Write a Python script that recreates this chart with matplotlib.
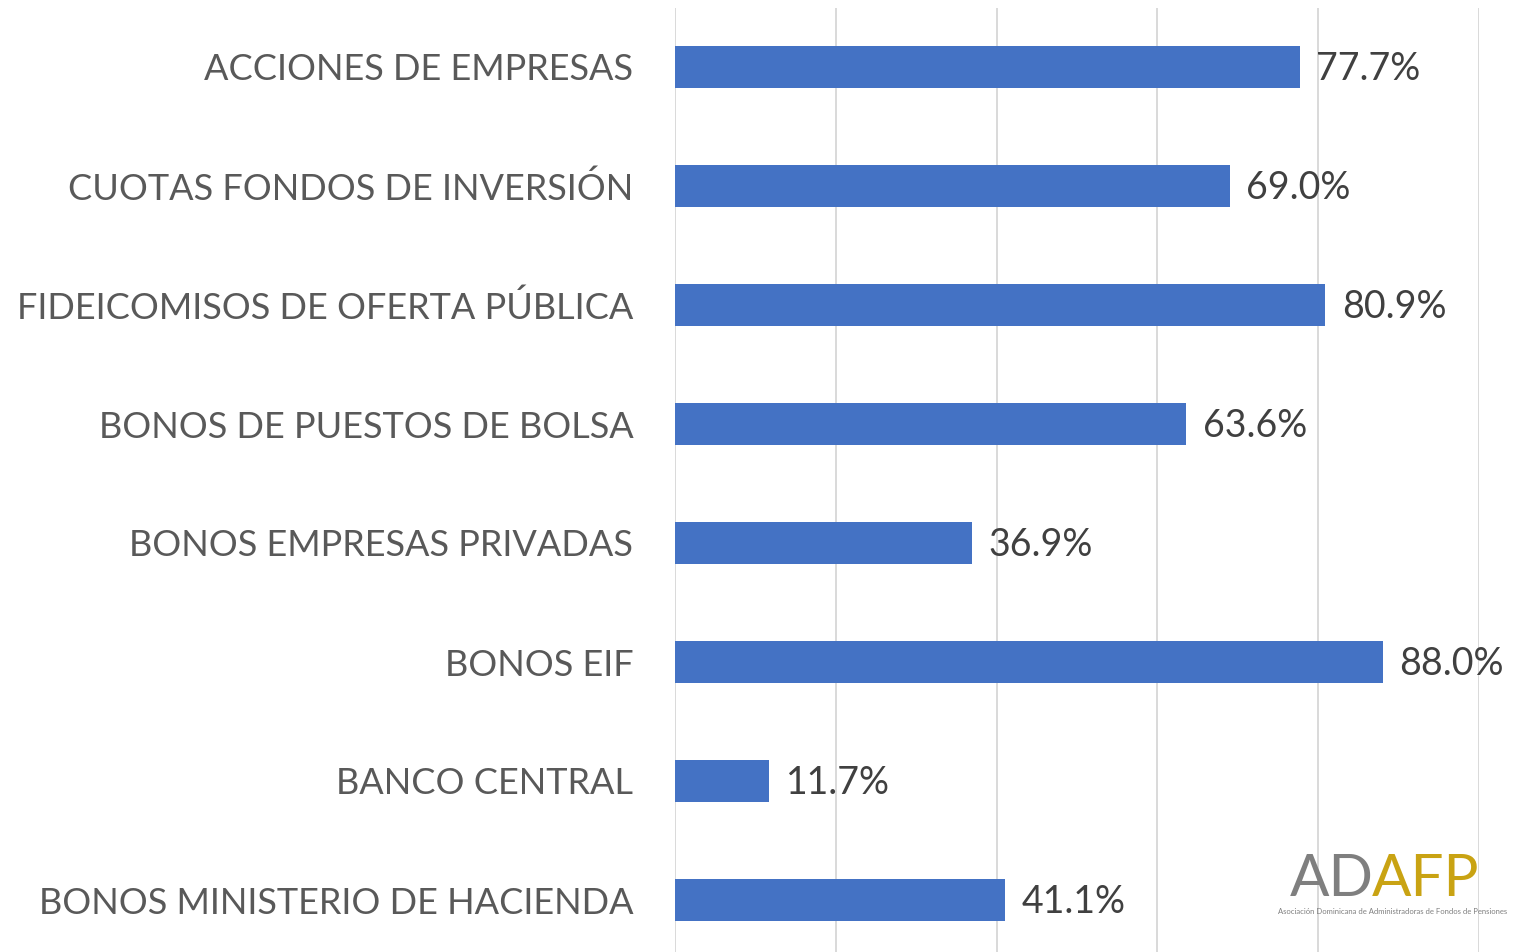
import matplotlib
matplotlib.use('Agg')
import matplotlib.pyplot as plt

categories = ['ACCIONES DE EMPRESAS', 'CUOTAS FONDOS DE INVERSIÓN',
              'FIDEICOMISOS DE OFERTA PÚBLICA', 'BONOS DE PUESTOS DE BOLSA',
              'BONOS EMPRESAS PRIVADAS', 'BONOS EIF', 'BANCO CENTRAL',
              'BONOS MINISTERIO DE HACIENDA']
values = [77.7, 69.0, 80.9, 63.6, 36.9, 88.0, 11.7, 41.1]
grid_ticks = [0, 20, 40, 60, 80, 100]

plt.rcParams['font.family'] = ['Lato', 'DejaVu Sans']

W, H = 1524, 952
fig = plt.figure(figsize=(W / 100, H / 100), dpi=100)
ax = fig.add_axes([675 / W, -7.5 / H, (1479 - 675) / W, 1.0])

pos = list(range(len(categories)))
ax.barh(pos, values, height=0.355, color='#4472C4', zorder=3)
ax.set_xlim(0, 100)
ax.set_ylim(len(categories) - 0.5, -0.5)

ax.set_xticks(grid_ticks)
ax.set_xticklabels([])
ax.xaxis.grid(True, color='#d9d9d9', lw=1.4, zorder=0)
ax.set_yticks(pos)
ax.set_yticklabels(categories, fontsize=26, color='#595959')
ax.tick_params(length=0, pad=30)
for s in ax.spines.values():
    s.set_visible(False)

for p, v in zip(pos, values):
    ax.annotate('%.1f%%' % v, (v, p), xytext=(12, -1.5), textcoords='offset points',
                va='center', ha='left', fontsize=27, color='#404040', zorder=4)

# logo (AD grey, AFP gold, small caption under it)
fig.text(1374 / W, 1 - 896 / H, 'AD', fontsize=42, color='#7f7f7f', ha='right',
         va='baseline')
fig.text(1372 / W, 1 - 896 / H, 'AFP', fontsize=42, color='#c9a313', ha='left',
         va='baseline')
fig.text(1278 / W, 1 - 908 / H, 'Asociación Dominicana de Administradoras de Fondos de Pensiones',
         fontsize=5.5, color='#7f7f7f', ha='left', va='top')

fig.savefig('out.png', dpi=100)
